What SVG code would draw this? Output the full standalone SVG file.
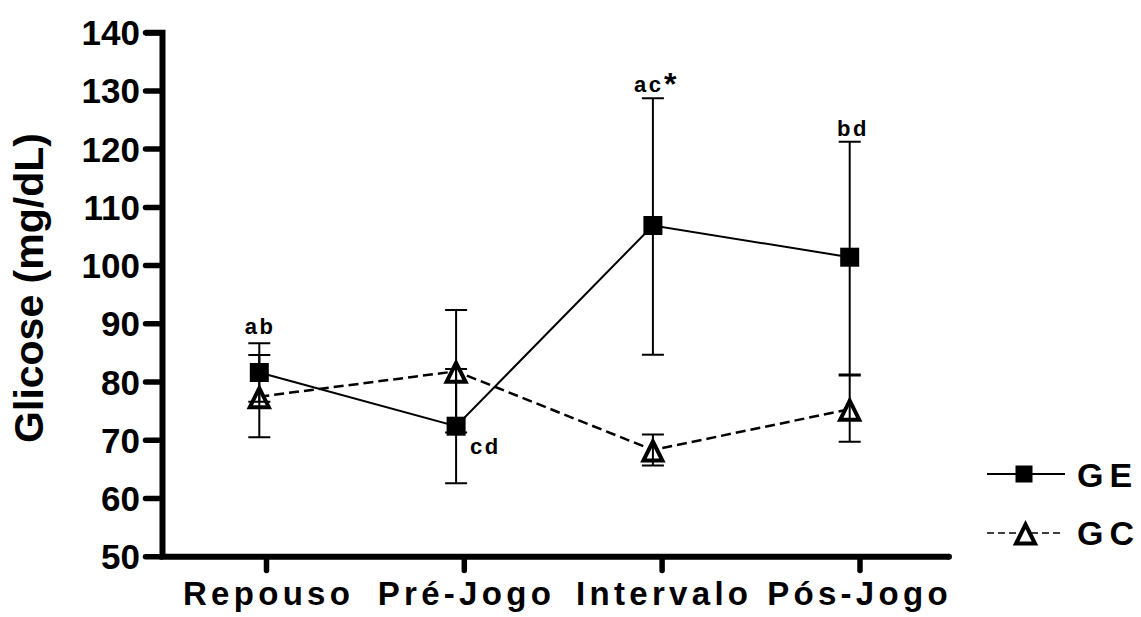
<svg xmlns="http://www.w3.org/2000/svg" width="1141" height="617" viewBox="0 0 1141 617">
<style>
text{font-family:"Liberation Sans",Arial,sans-serif;font-weight:bold;fill:#000}
.tick{font-size:35px;text-anchor:end}
.cat{font-size:33px;text-anchor:middle;letter-spacing:4.3px}
.lab{font-size:22px;letter-spacing:2.5px}
.leg{font-size:34px;letter-spacing:6px}
.ax{stroke:#000;stroke-width:6;fill:none}
.tk{stroke:#000;stroke-width:5.5;stroke-linecap:round}
.eb{stroke:#000;stroke-width:2;fill:none}
.ge{stroke:#000;stroke-width:2;fill:none}
.gc{stroke:#000;stroke-width:2.5;fill:none;stroke-dasharray:10 5}
.sq{fill:#000}
.tri{fill:#fff;stroke:#000;stroke-width:4;stroke-linejoin:miter}
</style>
<defs>
<rect id="sqm" x="-9.5" y="-9.5" width="19" height="19" class="sq"/>
<path id="trim" d="M0,-8.5 L9.5,10.5 L-9.5,10.5 Z" class="tri"/>
</defs>
<rect width="1141" height="617" fill="#fff"/>
<g id="axes">
<path class="ax" d="M145,32.7 H162.5 V556.7 H949" stroke-linejoin="miter"/>
<line x1="949" y1="556.7" x2="949" y2="556.7" stroke="#000" stroke-width="6" stroke-linecap="round"/>
<g class="tk">
<line x1="145.5" y1="32.7" x2="162" y2="32.7"/>
<line x1="145.5" y1="90.9" x2="162" y2="90.9"/>
<line x1="145.5" y1="149.1" x2="162" y2="149.1"/>
<line x1="145.5" y1="207.4" x2="162" y2="207.4"/>
<line x1="145.5" y1="265.6" x2="162" y2="265.6"/>
<line x1="145.5" y1="323.8" x2="162" y2="323.8"/>
<line x1="145.5" y1="382" x2="162" y2="382"/>
<line x1="145.5" y1="440.2" x2="162" y2="440.2"/>
<line x1="145.5" y1="498.5" x2="162" y2="498.5"/>
<line x1="145.5" y1="556.7" x2="162" y2="556.7"/>
<line x1="266.5" y1="557" x2="266.5" y2="570.5"/>
<line x1="464.3" y1="557" x2="464.3" y2="570.5"/>
<line x1="662.1" y1="557" x2="662.1" y2="570.5"/>
<line x1="860" y1="557" x2="860" y2="570.5"/>
</g>
<g class="tick">
<text x="140" y="45.2">140</text>
<text x="140" y="103.4">130</text>
<text x="140" y="161.6">120</text>
<text x="140" y="219.9">110</text>
<text x="140" y="278.1">100</text>
<text x="140" y="336.3">90</text>
<text x="140" y="394.5">80</text>
<text x="140" y="452.7">70</text>
<text x="140" y="511">60</text>
<text x="140" y="569.2">50</text>
</g>
<g class="cat">
<text x="268.6" y="605">Repouso</text>
<text x="466.4" y="605">Pré-Jogo</text>
<text x="664.2" y="605">Intervalo</text>
<text x="859.5" y="605">Pós-Jogo</text>
</g>
<text transform="translate(43,288) rotate(-90)" font-size="41" text-anchor="middle">Glicose (mg/dL)</text>
</g>
<g id="connectors">
<polyline class="ge" points="259.3,372.5 456.1,426.2 652.9,225.5 849.7,257.2"/>
<polyline class="gc" points="259.3,396.7 456.1,371.3 652.9,450 849.7,409.2"/>
</g>
<g id="GE-markers">
<use href="#sqm" x="259.3" y="372.5"/>
<use href="#sqm" x="456.1" y="426.2"/>
<use href="#sqm" x="652.9" y="225.5"/>
<use href="#sqm" x="849.7" y="257.2"/>
</g>
<g id="GC-markers">
<use href="#trim" x="259.3" y="396.7"/>
<use href="#trim" x="456.1" y="371.3"/>
<use href="#trim" x="652.9" y="450"/>
<use href="#trim" x="849.7" y="409.2"/>
</g>
<g id="error-bars" class="eb">
<path d="M259.3,343.3 V401.7 M248.3,343.3 H270.3 M248.3,401.7 H270.3"/>
<path d="M259.3,355 V437.3 M248.3,355 H270.3 M248.3,437.3 H270.3"/>
<path d="M456.1,369.1 V483.3 M445.1,369.1 H467.1 M445.1,483.3 H467.1"/>
<path d="M456.1,310 V432.6 M445.1,310 H467.1 M445.1,432.6 H467.1"/>
<path d="M652.9,98.3 V354.7 M641.9,98.3 H663.9 M641.9,354.7 H663.9"/>
<path d="M652.9,434.5 V465.5 M641.9,434.5 H663.9 M641.9,465.5 H663.9"/>
<path d="M849.7,141.7 V374.5 M838.7,141.7 H860.7 M838.7,374.5 H860.7"/>
<path d="M849.7,375.5 V441.7 M838.7,375.5 H860.7 M838.7,441.7 H860.7"/>
</g>
<g id="labels" class="lab">
<text x="260" y="334" text-anchor="middle">ab</text>
<text x="470" y="454">cd</text>
<text x="634" y="91.7">ac</text>
<text x="664" y="95" font-size="32" letter-spacing="0">*</text>
<text x="853" y="136" text-anchor="middle">bd</text>
</g>
<g id="legend">
<g id="legend-GE">
<line x1="987" y1="474" x2="1065" y2="474" class="ge"/>
<rect x="1015.5" y="465.5" width="17" height="17" class="sq"/>
<text x="1077" y="486.5" class="leg">GE</text>
</g>
<g id="legend-GC">
<line x1="987" y1="533" x2="1063" y2="533" stroke="#000" stroke-width="1.5" stroke-dasharray="7 4"/>
<use href="#trim" x="1025.5" y="533"/>
<text x="1077" y="545" class="leg">GC</text>
</g>
</g>
</svg>
